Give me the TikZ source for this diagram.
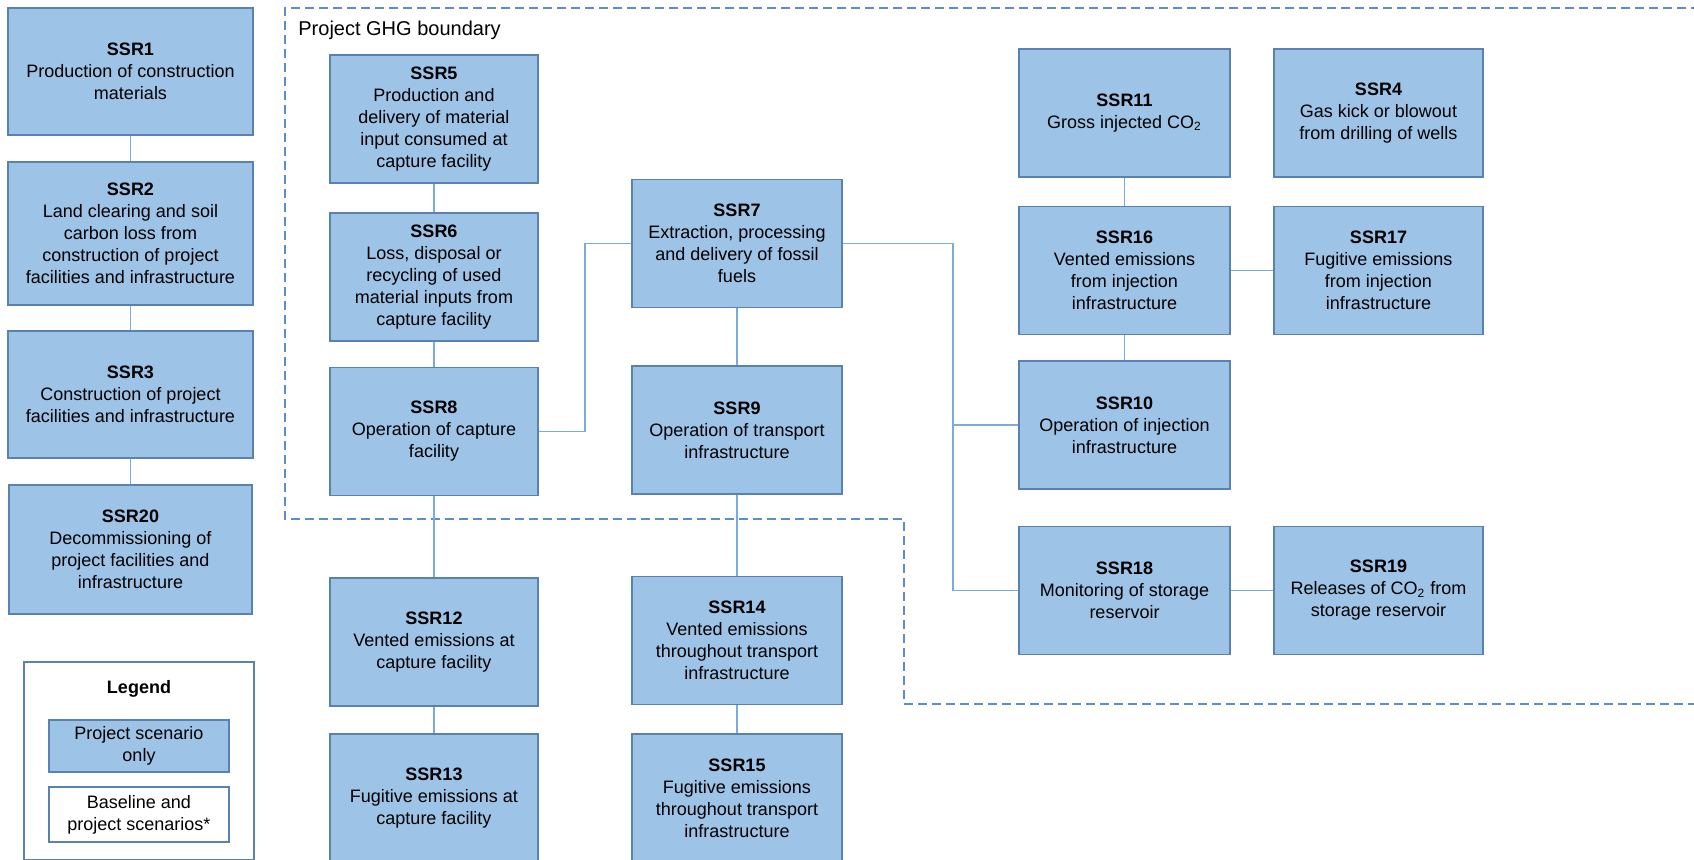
\documentclass[tikz,border=0pt]{standalone}
\usepackage{fontspec}
\setmainfont{Liberation Sans}
\definecolor{boxfill}{HTML}{9DC3E6}
\definecolor{boxline}{HTML}{5A82B0}
\definecolor{conn}{HTML}{7AABDF}
\definecolor{bnd}{HTML}{5B8ECB}
\begin{document}
\begin{tikzpicture}[x=0.5pt,y=-0.5pt,
  ssr/.style={draw=boxline, fill=boxfill, line width=0.6pt, align=center,
    font=\fontsize{9}{11}\selectfont, inner sep=2pt,
    minimum width=105pt, minimum height=64pt},
  lcol/.style={ssr, minimum width=122.5pt},
  leg/.style={draw=boxline, line width=0.6pt, align=center,
    font=\fontsize{9}{11}\selectfont, inner sep=2pt,
    minimum width=90pt},
  conline/.style={draw=conn, line width=0.6pt},
  boundary/.style={draw=bnd, line width=0.7pt, dash pattern=on 4.5pt off 2.5pt}]
\useasboundingbox (0,0) rectangle (1694,859);

% Project boundary
\draw[boundary] (1700,8) -- (285,8) -- (285,519) -- (904,519) -- (904,704) -- (1700,704);
\node[anchor=west, font=\fontsize{10}{12}\selectfont, inner sep=0pt] (bndlabel) at (298,30) {Project GHG boundary};

% Left column
\node[lcol, minimum height=63.5pt] (ssr1) at (130.5,71.5) {\textbf{SSR1}\\Production of construction\\materials};
\node[lcol, minimum height=71.5pt] (ssr2) at (130.5,233.5) {\textbf{SSR2}\\Land clearing and soil\\carbon loss from\\construction of project\\facilities and infrastructure};
\node[lcol, minimum height=63.5pt] (ssr3) at (130.5,394.5) {\textbf{SSR3}\\Construction of project\\facilities and infrastructure};
\node[lcol, minimum width=121.5pt, minimum height=64.5pt] (ssr20) at (130.5,549.5) {\textbf{SSR20}\\Decommissioning of\\project facilities and\\infrastructure};

% Legend
\node[draw=boxline, line width=0.6pt, minimum width=115pt, minimum height=99pt] (legend) at (139,761) {};
\node[font=\fontsize{9}{11}\selectfont\bfseries] (legtitle) at (139,689) {Legend};
\node[leg, fill=boxfill, minimum height=26pt] (legproj) at (139,746) {Project scenario\\only};
\node[leg, fill=white, minimum height=27.5pt] (legbase) at (139,814.5) {Baseline and\\project scenarios*};

% Capture column
\node[ssr, minimum width=104pt] (ssr5) at (434,119) {\textbf{SSR5}\\Production and\\delivery of material\\input consumed at\\capture facility};
\node[ssr, minimum width=104pt] (ssr6) at (434,277) {\textbf{SSR6}\\Loss, disposal or\\recycling of used\\material inputs from\\capture facility};
\node[ssr, minimum width=104pt] (ssr8) at (434,431.5) {\textbf{SSR8}\\Operation of capture\\facility};
\node[ssr, minimum width=104pt] (ssr12) at (434,642) {\textbf{SSR12}\\Vented emissions at\\capture facility};
\node[ssr, minimum width=104pt] (ssr13) at (434,798) {\textbf{SSR13}\\Fugitive emissions at\\capture facility};

% Transport column
\node[ssr] (ssr7) at (737,243.5) {\textbf{SSR7}\\Extraction, processing\\and delivery of fossil\\fuels};
\node[ssr] (ssr9) at (737,430) {\textbf{SSR9}\\Operation of transport\\infrastructure};
\node[ssr] (ssr14) at (737,640.5) {\textbf{SSR14}\\Vented emissions\\throughout transport\\infrastructure};
\node[ssr] (ssr15) at (737,798) {\textbf{SSR15}\\Fugitive emissions\\throughout transport\\infrastructure};

% Injection / storage
\node[ssr, minimum width=105.5pt] (ssr11) at (1124.5,113) {\textbf{SSR11}\\Gross injected CO\textsubscript{2}};
\node[ssr, minimum width=104.5pt] (ssr4) at (1378.5,113) {\textbf{SSR4}\\Gas kick or blowout\\from drilling of wells};
\node[ssr, minimum width=105.5pt] (ssr16) at (1124.5,270.5) {\textbf{SSR16}\\Vented emissions\\from injection\\infrastructure};
\node[ssr, minimum width=104.5pt] (ssr17) at (1378.5,270.5) {\textbf{SSR17}\\Fugitive emissions\\from injection\\infrastructure};
\node[ssr, minimum width=105.5pt] (ssr10) at (1124.5,425) {\textbf{SSR10}\\Operation of injection\\infrastructure};
\node[ssr, minimum width=105.5pt] (ssr18) at (1124.5,590.5) {\textbf{SSR18}\\Monitoring of storage\\reservoir};
\node[ssr, minimum width=104.5pt] (ssr19) at (1378.5,590.5) {\textbf{SSR19}\\Releases of CO\textsubscript{2} from\\storage reservoir};

% Bus coordinates
\coordinate (busA) at (585,0);
\coordinate (busB) at (953,0);

% Connectors
\draw[conline] (ssr1) -- (ssr2);
\draw[conline] (ssr2) -- (ssr3);
\draw[conline] (ssr3) -- (ssr20);
\draw[conline] (ssr5) -- (ssr6);
\draw[conline] (ssr6) -- (ssr8);
\draw[conline] (ssr8) -- (ssr12);
\draw[conline] (ssr12) -- (ssr13);
\draw[conline] (ssr7) -- (ssr9);
\draw[conline] (ssr9) -- (ssr14);
\draw[conline] (ssr14) -- (ssr15);
\draw[conline] (ssr11) -- (ssr16);
\draw[conline] (ssr16) -- (ssr10);
\draw[conline] (ssr16) -- (ssr17);
\draw[conline] (ssr18) -- (ssr19);
\draw[conline] (ssr8.east) -- (ssr8.east -| busA) -- (ssr7.west -| busA) -- (ssr7.west);
\draw[conline] (ssr7.east) -- (ssr7.east -| busB) -- (ssr18.west -| busB) -- (ssr18.west);
\draw[conline] (ssr10.west -| busB) -- (ssr10.west);
\end{tikzpicture}
\end{document}
